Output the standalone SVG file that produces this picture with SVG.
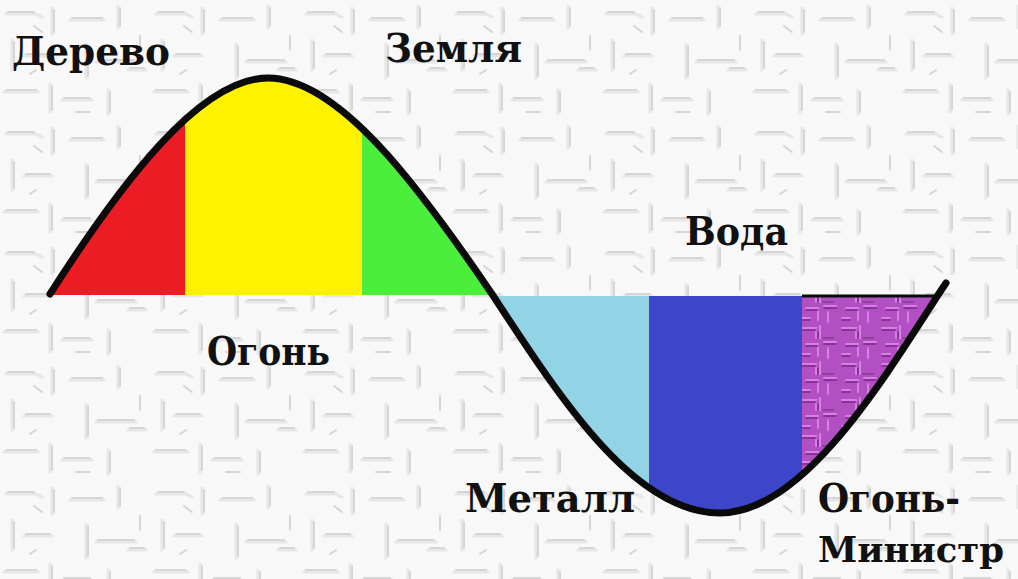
<svg xmlns="http://www.w3.org/2000/svg" width="1018" height="579" viewBox="0 0 1018 579">
  <style>
    .lbl { font-family: "DejaVu Serif", "Liberation Serif", serif; font-weight: bold; font-size: 39px; fill: #111; }
    .curve { fill: none; stroke: #0a0a0a; stroke-width: 7; stroke-linecap: round; stroke-linejoin: round; }
    .tex { fill: none; stroke: #d6d6d6; stroke-width: 2; stroke-linecap: round; }
    .tex2 { fill: none; stroke: #e6e6e6; stroke-width: 3; stroke-linecap: round; }
    .ptex { fill: none; stroke: #d77fe4; stroke-width: 2; stroke-linecap: round; }
    .ptex2 { fill: none; stroke: #7a2a88; stroke-width: 1.5; stroke-linecap: round; }
  </style>
  <defs>
    <pattern id="wall" width="150" height="120" patternUnits="userSpaceOnUse">
      <rect width="150" height="120" fill="#f8f8f8"/>
      <path class="tex2" d="M6,14 h30 l6,3 M52,8 v26 M70,20 h34 M118,6 v22 M12,40 v30 M24,56 h28 M86,44 v34 M96,62 h40 M4,92 h34 M50,84 v28 M62,100 h30 M108,90 v24 M128,70 h18"/>
      <path class="tex" d="M8,12 h26 M54,10 v22 M72,18 h30 M120,8 v18 M14,42 v26 M26,54 h24 M88,46 v30 M98,60 h36 M6,90 h30 M52,86 v24 M64,98 h26 M110,92 v20 M130,68 h14 M34,26 l8,6 M140,36 v14 M76,112 h14 M30,74 l6,-4"/>
    </pattern>
    <pattern id="stone" width="40" height="36" patternUnits="userSpaceOnUse">
      <rect width="40" height="36" fill="#b24fc2"/>
      <path class="ptex" d="M2,4 h14 v10 M20,2 v12 h14 M6,20 h12 v12 M24,18 h12 M28,24 v10 M2,30 h8"/>
      <path class="ptex2" d="M2,6 h14 M22,14 h12 M6,22 h12 M24,20 h12 M2,32 h8 M18,8 v6"/>
    </pattern>
    <clipPath id="upper">
      <path d="M50,295 C121,183 200,78 268,78 C338,78 418,185 492,295 Z"/>
    </clipPath>
    <clipPath id="lower">
      <path d="M492,295 C565,406 636,513 720,513 C800,513 876,392 940,292 L940,296 L492,296 Z"/>
    </clipPath>
  </defs>

  <rect id="background" x="0" y="0" width="1018" height="579" fill="url(#wall)"/>

  <g id="derevo-region" clip-path="url(#upper)">
    <rect x="40" y="60" width="145" height="237" fill="#ec1c24"/>
  </g>
  <g id="ogon-region" clip-path="url(#upper)">
    <rect x="185" y="60" width="177" height="237" fill="#fff200"/>
  </g>
  <g id="zemlya-region" clip-path="url(#upper)">
    <rect x="362" y="60" width="140" height="237" fill="#4cee3c"/>
  </g>
  <g id="metall-region" clip-path="url(#lower)">
    <rect x="485" y="295" width="164" height="230" fill="#92d3e6"/>
  </g>
  <g id="voda-region" clip-path="url(#lower)">
    <rect x="649" y="295" width="153" height="230" fill="#3d45c8"/>
  </g>
  <g id="ogon-ministr-region" clip-path="url(#lower)">
    <rect x="802" y="295" width="150" height="230" fill="url(#stone)"/>
  </g>

  <g id="connectors">
    <path class="curve" d="M50,294 C121,183 200,78 268,78 C338,78 418,185 492,294 C565,406 636,513 720,513 C800,513 876,392 940,292 L946,283"/>
    <line x1="802" y1="296" x2="935" y2="296" stroke="#0a0a0a" stroke-width="3"/>
  </g>

  <g id="label-derevo"><text class="lbl" x="12" y="65" textLength="158" lengthAdjust="spacingAndGlyphs">Дерево</text></g>
  <g id="label-zemlya"><text class="lbl" x="385" y="62" textLength="137" lengthAdjust="spacingAndGlyphs">Земля</text></g>
  <g id="label-voda"><text class="lbl" x="685" y="245" textLength="103" lengthAdjust="spacingAndGlyphs">Вода</text></g>
  <g id="label-ogon"><text class="lbl" x="207" y="365" textLength="123" lengthAdjust="spacingAndGlyphs">Огонь</text></g>
  <g id="label-metall"><text class="lbl" x="465" y="512" textLength="170" lengthAdjust="spacingAndGlyphs">Металл</text></g>
  <g id="label-ogon-ministr">
    <text class="lbl" x="818" y="512" textLength="142" lengthAdjust="spacingAndGlyphs">Огонь-</text>
    <text class="lbl" x="818" y="562" font-size="36" style="font-size:36px" textLength="186" lengthAdjust="spacingAndGlyphs">Министр</text>
  </g>
</svg>
